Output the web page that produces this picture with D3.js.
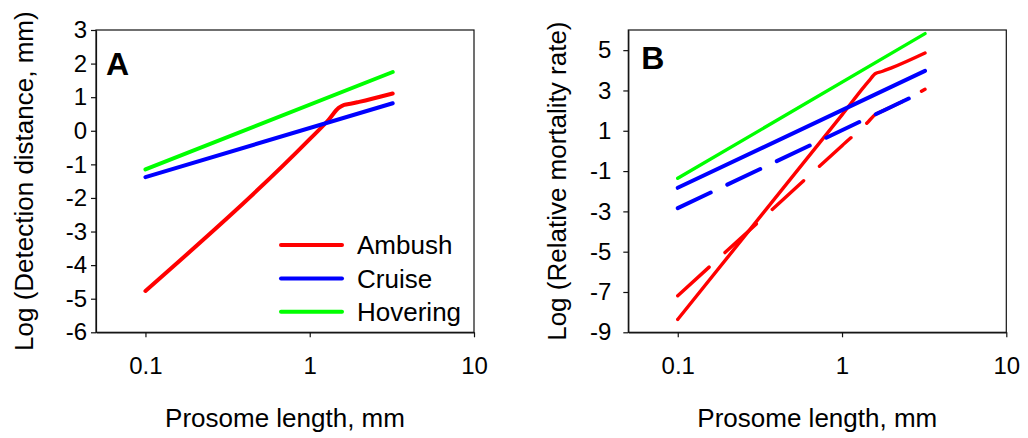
<!DOCTYPE html>
<html>
<head>
<meta charset="utf-8">
<script src="https://cdn.jsdelivr.net/npm/d3@7"></script>
<style>
  html, body { margin: 0; padding: 0; background: #fff; }
  svg text { font-family: Arial, "Liberation Sans", Helvetica, sans-serif; fill: #000; }
</style>
</head>
<body>
<svg id="chart" width="1028" height="438"></svg>
<script>
// ---------- data ----------
const xTickValues = [0.1, 1, 10];
const xTickLabels = ["0.1", "1", "10"];
const xDomain = [0.05, 10];

// Panel A: Log (Detection distance, mm)
const yTicksA = [-6, -5, -4, -3, -2, -1, 0, 1, 2, 3];
const yDomainA = [-6, 3];
const ambushA_x = [0.1, 1.0, 1.3, 1.5, 1.62, 1.8, 2.0, 3.2];
const ambushA_y = [-4.77, -0.25, 0.32, 0.68, 0.77, 0.81, 0.86, 1.11];
const cruiseA_x = [0.1, 3.2];
const cruiseA_y = [-1.38, 0.82];
const hoverA_x = [0.1, 3.2];
const hoverA_y = [-1.15, 1.75];

// Panel B: Log (Relative mortality rate)
const yTicksB = [-9, -7, -5, -3, -1, 1, 3, 5];
const yDomainB = [-9, 6];
const ambushB_x = [0.1, 1.0, 1.45, 1.6, 1.75, 2.0, 3.2];
const ambushB_y = [-8.36, 1.79, 3.45, 3.84, 3.94, 4.12, 4.86];
const ambushDashB_x = [0.1, 1.0, 1.45, 1.6, 1.8, 2.2, 3.2];
const ambushDashB_y = [-7.19, 0.26, 1.46, 1.82, 2.01, 2.35, 3.06];
const cruiseB_x = [0.1, 3.2];
const cruiseB_y = [-1.83, 3.97];
const cruiseDashB_x = [0.1, 3.2];
const cruiseDashB_y = [-2.84, 2.98];
const hoverB_x = [0.1, 3.2];
const hoverB_y = [-1.36, 5.82];

const legendNames = ["Ambush", "Cruise", "Hovering"];
const colors = { Ambush: "#ff0000", Cruise: "#0000ff", Hovering: "#00ff00" };

// ---------- drawing ----------
const svg = d3.select("#chart");
const zip = (xs, ys) => xs.map((x, i) => [x, ys[i]]);
const fmt = d => String(d);

function panel(opts) {
  const { left, top, width, height, yDomain, yTicks, yPad, letter, letterPos, yTitle, yTitleX, series } = opts;
  const x = d3.scaleLog().domain(xDomain).range([0, width]);
  const y = d3.scaleLinear().domain(yDomain).range([height, 0]);
  const g = svg.append("g").attr("transform", `translate(${left},${top})`);

  // lines
  const line = d3.line().x(d => x(d[0])).y(d => y(d[1])).curve(d3.curveMonotoneX);
  series.forEach(s => {
    g.append("path")
      .datum(zip(s.xs, s.ys))
      .attr("d", line)
      .attr("fill", "none")
      .attr("stroke", s.color)
      .attr("stroke-width", s.width)
      .attr("stroke-linecap", "round")
      .attr("stroke-linejoin", "round")
      .attr("stroke-dasharray", s.dash || null);
  });

  // frame
  g.append("rect").attr("x", 0).attr("y", 0).attr("width", width).attr("height", height)
    .attr("fill", "none").attr("stroke", "#111").attr("stroke-width", 1.2);

  // axes
  const ax = g.append("g").attr("transform", `translate(0,${height})`)
    .call(d3.axisBottom(x).tickValues(xTickValues).tickFormat((d, i) => xTickLabels[i])
      .tickSize(5).tickSizeOuter(0).tickPadding(20));
  const ay = g.append("g")
    .call(d3.axisLeft(y).tickValues(yTicks).tickFormat(fmt).tickSize(5).tickSizeOuter(0).tickPadding(yPad));
  [ax, ay].forEach(a => {
    a.select(".domain").attr("stroke", "#111").attr("stroke-width", 1.2);
    a.selectAll(".tick line").attr("stroke", "#111").attr("stroke-width", 1.2);
    a.selectAll(".tick text").attr("font-size", 24).attr("fill", "#000")
      .style("font-family", 'Arial, "Liberation Sans", sans-serif');
  });

  // panel letter
  g.append("text").attr("x", letterPos[0]).attr("y", letterPos[1])
    .attr("font-size", 32).attr("font-weight", "bold").text(letter);

  // axis titles
  svg.append("text")
    .attr("x", left + width / 2).attr("y", 427)
    .attr("text-anchor", "middle").attr("font-size", 26)
    .text("Prosome length, mm");
  svg.append("text")
    .attr("transform", `translate(${yTitleX},${top + height / 2}) rotate(-90)`)
    .attr("text-anchor", "middle").attr("font-size", 26)
    .text(yTitle);

  return { g, x, y };
}

const A = panel({
  left: 96, top: 30, width: 378, height: 302.3,
  yDomain: yDomainA, yTicks: yTicksA, yPad: 4,
  letter: "A", letterPos: [10, 45],
  yTitle: "Log (Detection distance, mm)", yTitleX: 33,
  series: [
    { xs: ambushA_x, ys: ambushA_y, color: colors.Ambush, width: 4 },
    { xs: cruiseA_x, ys: cruiseA_y, color: colors.Cruise, width: 4 },
    { xs: hoverA_x, ys: hoverA_y, color: colors.Hovering, width: 4 }
  ]
});

const B = panel({
  left: 628.3, top: 30, width: 378, height: 302.3,
  yDomain: yDomainB, yTicks: yTicksB, yPad: 12,
  letter: "B", letterPos: [13, 38.5],
  yTitle: "Log (Relative mortality rate)", yTitleX: 566,
  series: [
    { xs: ambushDashB_x, ys: ambushDashB_y, color: colors.Ambush, width: 3.4, dash: "42.5,21.5" },
    { xs: ambushB_x, ys: ambushB_y, color: colors.Ambush, width: 3.4 },
    { xs: cruiseDashB_x, ys: cruiseDashB_y, color: colors.Cruise, width: 4, dash: "36.5,18.3" },
    { xs: cruiseB_x, ys: cruiseB_y, color: colors.Cruise, width: 4 },
    { xs: hoverB_x, ys: hoverB_y, color: colors.Hovering, width: 3.4 }
  ]
});

// legend (panel A)
const leg = A.g.append("g").attr("transform", "translate(185,215)");
legendNames.forEach((name, i) => {
  const row = leg.append("g").attr("transform", `translate(0,${i * 33.4})`);
  row.append("line").attr("x1", 0).attr("x2", 61).attr("y1", 0).attr("y2", 0)
    .attr("stroke", colors[name]).attr("stroke-width", 4).attr("stroke-linecap", "round");
  row.append("text").attr("x", 76).attr("y", 0).attr("dy", "0.35em")
    .attr("font-size", 26).text(name);
});
</script>
</body>
</html>
